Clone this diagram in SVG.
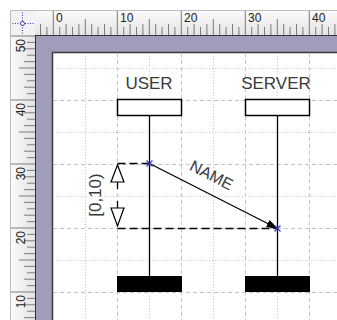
<svg xmlns="http://www.w3.org/2000/svg" width="337" height="320" viewBox="0 0 337 320">
<defs>
<linearGradient id="rulerH" x1="0" y1="0" x2="0" y2="1"><stop offset="0" stop-color="#fbfbfb"/><stop offset="1" stop-color="#e4e4e4"/></linearGradient>
<linearGradient id="rulerV" x1="0" y1="0" x2="1" y2="0"><stop offset="0" stop-color="#fbfbfb"/><stop offset="1" stop-color="#e4e4e4"/></linearGradient>
<marker id="arrow" markerWidth="12" markerHeight="8" refX="11" refY="4" orient="auto" markerUnits="userSpaceOnUse"><path d="M0,0 L12,4 L0,8 Z" fill="#000"/></marker>
</defs>
<style>
.tick{stroke:#7a7a7a;stroke-width:1;fill:none}
.rnum{font-family:"Liberation Sans",Arial,sans-serif;font-size:12px;fill:#222}
.gmaj{stroke:#c4c4c4;stroke-width:1;stroke-dasharray:4 3;fill:none}
.gmin{stroke:#c8c8c8;stroke-width:1;stroke-dasharray:1 2;fill:none}
.box{fill:#fff;stroke:#000;stroke-width:1.5}
.life{stroke:#000;stroke-width:1.3;fill:none}
.bar{fill:#000}
.lbl{font-family:"Liberation Sans",Arial,sans-serif;fill:#3a3a3a}
.dash{stroke:#000;stroke-width:1.3;stroke-dasharray:8 4;fill:none}
.cross{stroke:#3c3cc8;stroke-width:1.2;fill:none}
.tri{fill:#fff;stroke:#000;stroke-width:1.2}
</style>
<rect x="0" y="0" width="337" height="320" fill="#fff"/>
<!-- desktop band -->
<rect x="35" y="35" width="302" height="285" fill="#9f9dbb"/>
<!-- page -->
<rect x="52.5" y="52.5" width="300" height="300" fill="#fff" stroke="#3a3a3a" stroke-width="1.5"/>
<!-- grid -->
<g id="grid">
<path class="gmin" d="M85.5,53V320M149.5,53V320M213.5,53V320M277.5,53V320M53,68.5H337M53,132.5H337M53,196.5H337M53,260.5H337"/>
<path class="gmaj" d="M117.5,53V320M181.5,53V320M245.5,53V320M309.5,53V320M53,100.5H337M53,164.5H337M53,228.5H337M53,292.5H337"/>
</g>
<!-- rulers -->
<g id="ruler-top">
<rect x="35" y="10" width="302" height="25" fill="url(#rulerH)"/>
<path class="tick" d="M46.9,27V35M59.7,27V35M72.5,27V35M98.1,27V35M110.9,27V35M123.7,27V35M136.5,27V35M162.1,27V35M174.9,27V35M187.7,27V35M200.5,27V35M226.1,27V35M238.9,27V35M251.7,27V35M264.5,27V35M290.1,27V35M302.9,27V35M315.7,27V35M328.5,27V35"/>
<path class="tick" d="M40.5,24V35M66.1,24V35M78.9,24V35M91.7,24V35M104.5,24V35M130.1,24V35M142.9,24V35M155.7,24V35M168.5,24V35M194.1,24V35M206.9,24V35M219.7,24V35M232.5,24V35M258.1,24V35M270.9,24V35M283.7,24V35M296.5,24V35M322.1,24V35M334.9,24V35"/>
<path class="tick" d="M85.3,19V35M149.3,19V35M213.3,19V35M277.3,19V35"/>
<path class="tick" d="M53.3,10V35M117.3,10V35M181.3,10V35M245.3,10V35M309.3,10V35"/>
<text class="rnum" x="56" y="22">0</text>
<text class="rnum" x="120" y="22">10</text>
<text class="rnum" x="184" y="22">20</text>
<text class="rnum" x="248" y="22">30</text>
<text class="rnum" x="312" y="22">40</text>
<path d="M10,35.5H337" stroke="#333" stroke-width="1"/>
</g>
<g id="ruler-left">
<rect x="10" y="35" width="25" height="285" fill="url(#rulerV)"/>
<path class="tick" d="M27,42.4H35M27,55.2H35M27,80.8H35M27,93.6H35M27,106.4H35M27,119.2H35M27,144.8H35M27,157.6H35M27,170.4H35M27,183.2H35M27,208.8H35M27,221.6H35M27,234.4H35M27,247.2H35M27,272.8H35M27,285.6H35M27,298.4H35M27,311.2H35"/>
<path class="tick" d="M24,48.8H35M24,61.6H35M24,74.4H35M24,87.2H35M24,112.8H35M24,125.6H35M24,138.4H35M24,151.2H35M24,176.8H35M24,189.6H35M24,202.4H35M24,215.2H35M24,240.8H35M24,253.6H35M24,266.4H35M24,279.2H35M24,304.8H35M24,317.6H35"/>
<path class="tick" d="M19,68H35M19,132H35M19,196H35M19,260H35"/>
<path class="tick" d="M10,36H35M10,100H35M10,164H35M10,228H35M10,292H35"/>
<text class="rnum" text-anchor="end" transform="translate(25,39) rotate(-90)">50</text>
<text class="rnum" text-anchor="end" transform="translate(25,103) rotate(-90)">40</text>
<text class="rnum" text-anchor="end" transform="translate(25,167) rotate(-90)">30</text>
<text class="rnum" text-anchor="end" transform="translate(25,231) rotate(-90)">20</text>
<text class="rnum" text-anchor="end" transform="translate(25,295) rotate(-90)">10</text>
<path d="M35.5,35V320" stroke="#333" stroke-width="1"/>
</g>
<g id="ruler-corner">
<rect x="10" y="10" width="25" height="25" fill="#f2f2f2"/>
<path d="M10,23.5H35M22.5,10V35" stroke="#3a3ab4" stroke-width="1" stroke-dasharray="1 1.5"/>
<circle cx="22.5" cy="23.5" r="2" fill="#fff" stroke="#3a3ab4" stroke-width="1"/>
<path d="M10,10.5H337M10.5,10V320" stroke="#bdbdbd" stroke-width="1"/>
</g>
<!-- nodes -->
<g id="user">
<text class="lbl" x="149" y="89" font-size="17" text-anchor="middle">USER</text>
<rect class="box" x="117.5" y="99.5" width="64" height="16"/>
<path class="life" d="M149.5,115.5V276"/>
<rect class="bar" x="117" y="276" width="65" height="16"/>
</g>
<g id="server">
<text class="lbl" x="276" y="89" font-size="17" text-anchor="middle">SERVER</text>
<rect class="box" x="245.5" y="99.5" width="64" height="16"/>
<path class="life" d="M277.5,115.5V276"/>
<rect class="bar" x="245" y="276" width="65" height="16"/>
</g>
<g id="duration">
<path class="dash" d="M117.5,163.5H149.5"/>
<path class="dash" d="M117.5,228.5H277.5"/>
<path class="life" d="M117.5,182V189M117.5,201V208"/>
<path class="tri" d="M117.5,165L111,182H124Z"/>
<path class="tri" d="M117.5,226L111,208H124Z"/>
<text class="lbl" font-size="17" text-anchor="middle" transform="translate(101,195) rotate(-90)">[0,10)</text>
</g>
<!-- connectors -->
<g id="connectors">
<path d="M149.5,163.5L277.5,228.5" stroke="#000" stroke-width="1.3" fill="none" marker-end="url(#arrow)"/>
<text class="lbl" font-size="16" text-anchor="middle" transform="translate(209,180) rotate(26.9)">NAME</text>
<path class="cross" d="M146.5,160.5L152.5,166.5M152.5,160.5L146.5,166.5"/>
<path class="cross" d="M274.5,225.5L280.5,231.5M280.5,225.5L274.5,231.5"/>
</g>
</svg>
